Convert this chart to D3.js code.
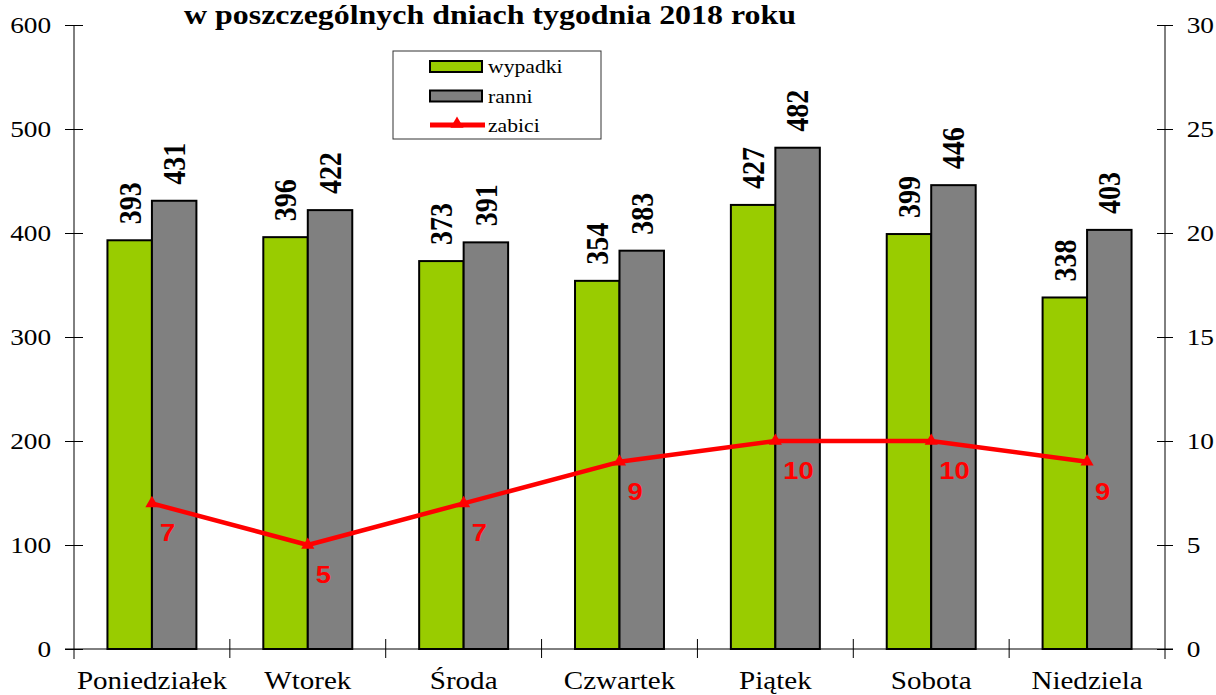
<!DOCTYPE html>
<html>
<head>
<meta charset="utf-8">
<script src="https://cdn.jsdelivr.net/npm/d3@7"></script>
<style>
    body { margin: 0; background: #fff; }
    svg { display: block; }
    text { font-family: "Liberation Serif", "Times New Roman", serif; fill: #000; }
    text.red { font-family: "Liberation Sans", Arial, sans-serif; fill: #FF0000; }
</style>
</head>
<body>
<svg id="chart"></svg>
<script>
const days = ['Poniedziałek', 'Wtorek', 'Środa', 'Czwartek', 'Piątek', 'Sobota', 'Niedziela']
const wypadki = [393, 396, 373, 354, 427, 399, 338]
const ranni = [431, 422, 391, 383, 482, 446, 403]
const zabici = [7, 5, 7, 9, 10, 10, 9]
const leftTicks = [0, 100, 200, 300, 400, 500, 600]
const rightTicks = [0, 5, 10, 15, 20, 25, 30]
const seriesNames = ['wypadki', 'ranni', 'zabici']
const title = 'w poszczególnych dniach tygodnia 2018 roku'

const chart = {}
chart.width_ = 1216
chart.height_ = 695
chart.margin = {top: 25, right: 51, bottom: 46, left: 74}
chart.colors = {wypadki: '#99CC00', ranni: '#808080', zabici: '#FF0000'}
// the reference picture is a bit wider than tall, text too
const sx = 1.14

chart.svg = d3.select('#chart')
    .attr('width', chart.width_)
    .attr('height', chart.height_)

const x0 = chart.margin.left
const x1 = chart.width_ - chart.margin.right
const y0 = chart.height_ - chart.margin.bottom
const y1 = chart.margin.top

// scales
chart.x = d3.scaleBand().domain(days).range([x0, x1])
chart.xs = d3.scaleBand().domain(['wypadki', 'ranni'])
    .range([0, chart.x.bandwidth()])
    .paddingInner(0)
    .paddingOuter(0.752)
chart.y = d3.scaleLinear().domain([0, 600]).range([y0, y1])
chart.y2 = d3.scaleLinear().domain([0, 30]).range([y0, y1])

const g = chart.svg.append('g')

// bars
const rows = days.map((d, i) => ({day: d, wypadki: wypadki[i], ranni: ranni[i]}))
const group = g.append('g').selectAll('g').data(rows).enter().append('g')
    .attr('transform', d => `translate(${chart.x(d.day)},0)`)

const bars = group.selectAll('g.bar')
    .data(d => ['wypadki', 'ranni'].map(k => ({key: k, value: d[k]})))
    .enter().append('g').classed('bar', true)

bars.append('rect')
    .attr('x', d => chart.xs(d.key))
    .attr('y', d => chart.y(d.value))
    .attr('width', chart.xs.bandwidth())
    .attr('height', d => y0 - chart.y(d.value))
    .attr('fill', d => chart.colors[d.key])
    .attr('stroke', '#000')
    .attr('stroke-width', 2)

bars.append('text')
    .attr('transform', d => {
        const cx = chart.xs(d.key) + chart.xs.bandwidth() / 2
        return `translate(${cx},${chart.y(d.value) - 16}) rotate(-90) scale(1,${sx})`
    })
    .attr('dy', '0.34em')
    .attr('font-size', 28)
    .attr('font-weight', 'bold')
    .text(d => d.value)

// axes
const xAxis = g.append('g').attr('stroke', '#000').attr('stroke-width', 1)
xAxis.append('line')
    .attr('x1', x0 - 9).attr('x2', x1 + 8)
    .attr('y1', y0).attr('y2', y0)
xAxis.selectAll('line.tick')
    .data(days.slice(1))
    .enter().append('line').classed('tick', true)
    .attr('x1', d => chart.x(d)).attr('x2', d => chart.x(d))
    .attr('y1', y0 - 10).attr('y2', y0 + 9)

g.append('g').selectAll('text.cat')
    .data(days)
    .enter().append('text').classed('cat', true)
    .attr('transform', d => `translate(${chart.x(d) + chart.x.bandwidth() / 2},${y0 + 40}) scale(${sx},1)`)
    .attr('text-anchor', 'middle')
    .attr('font-size', 25.5)
    .text(d => d)

function styleAxis(sel, dx, anchor) {
    sel.select('.domain').attr('stroke', '#000')
    sel.selectAll('.tick line').attr('stroke', '#000')
    sel.selectAll('.tick text')
        .attr('font-size', 24)
        .attr('x', dx)
        .attr('text-anchor', anchor)
        .attr('transform', `scale(${sx},1)`)
}

const yAxis = g.append('g')
    .attr('transform', `translate(${x0},0)`)
    .call(d3.axisLeft(chart.y).tickValues(leftTicks).tickSizeInner(9).tickSizeOuter(0).tickPadding(0))
yAxis.selectAll('.tick line').attr('x2', 9).attr('x1', -9)
styleAxis(yAxis, -20, 'end')

const yAxis2 = g.append('g')
    .attr('transform', `translate(${x1},0)`)
    .call(d3.axisRight(chart.y2).tickValues(rightTicks).tickSizeInner(8).tickSizeOuter(0).tickPadding(0))
yAxis2.selectAll('.tick line').attr('x1', -8).attr('x2', 8)
styleAxis(yAxis2, 19, 'start')
yAxis.select('.domain').attr('d', `M0,${y1}V${y0 + 10}`)
yAxis2.select('.domain').attr('d', `M0,${y1}V${y0 + 10}`)

// line
const pts = days.map((d, i) => ({day: d, value: zabici[i]}))
const lx = d => chart.x(d.day) + chart.x.bandwidth() / 2
const line = d3.line().x(lx).y(d => chart.y2(d.value))
g.append('path')
    .datum(pts)
    .attr('d', line)
    .attr('fill', 'none')
    .attr('stroke', chart.colors.zabici)
    .attr('stroke-width', 4.5)
    .attr('stroke-linejoin', 'round')

const tri = d3.symbol().type(d3.symbolTriangle).size(75)
g.append('g').selectAll('path')
    .data(pts)
    .enter().append('path')
    .attr('d', tri)
    .attr('transform', d => `translate(${lx(d)},${chart.y2(d.value)})`)
    .attr('fill', chart.colors.zabici)

g.append('g').selectAll('text')
    .data(pts)
    .enter().append('text').classed('red', true)
    .attr('transform', d => `translate(${lx(d) + 8},${chart.y2(d.value) + 38}) scale(${sx},1)`)
    .attr('font-weight', 'bold')
    .attr('font-size', 24)
    .text(d => d.value)

// title (its top is cut in the reference)
chart.svg.append('text')
    .attr('transform', `translate(490,24) scale(${sx},1)`)
    .attr('text-anchor', 'middle')
    .attr('font-size', 28)
    .attr('font-weight', 'bold')
    .text(title)

// legend
const legend = chart.svg.append('g').attr('transform', 'translate(393,51)')
legend.append('rect')
    .attr('width', 208).attr('height', 88)
    .attr('fill', '#fff')
    .attr('stroke', '#333').attr('stroke-width', 1)

const item = legend.selectAll('g.item')
    .data(seriesNames)
    .enter().append('g').classed('item', true)
    .attr('transform', (d, i) => `translate(0,${15 + i * 29.5})`)

item.filter(d => d !== 'zabici').append('rect')
    .attr('x', 37).attr('y', -5)
    .attr('width', 52).attr('height', 11)
    .attr('fill', d => chart.colors[d])
    .attr('stroke', '#000').attr('stroke-width', 2)

const lineItem = item.filter(d => d === 'zabici')
lineItem.append('line')
    .attr('x1', 37).attr('x2', 92)
    .attr('stroke', chart.colors.zabici).attr('stroke-width', 5)
lineItem.append('path')
    .attr('d', tri)
    .attr('transform', 'translate(64,-1)')
    .attr('fill', chart.colors.zabici)

item.append('text')
    .attr('transform', `translate(95,7) scale(${sx},1)`)
    .attr('font-size', 19)
    .text(d => d)
</script>
</body>
</html>
